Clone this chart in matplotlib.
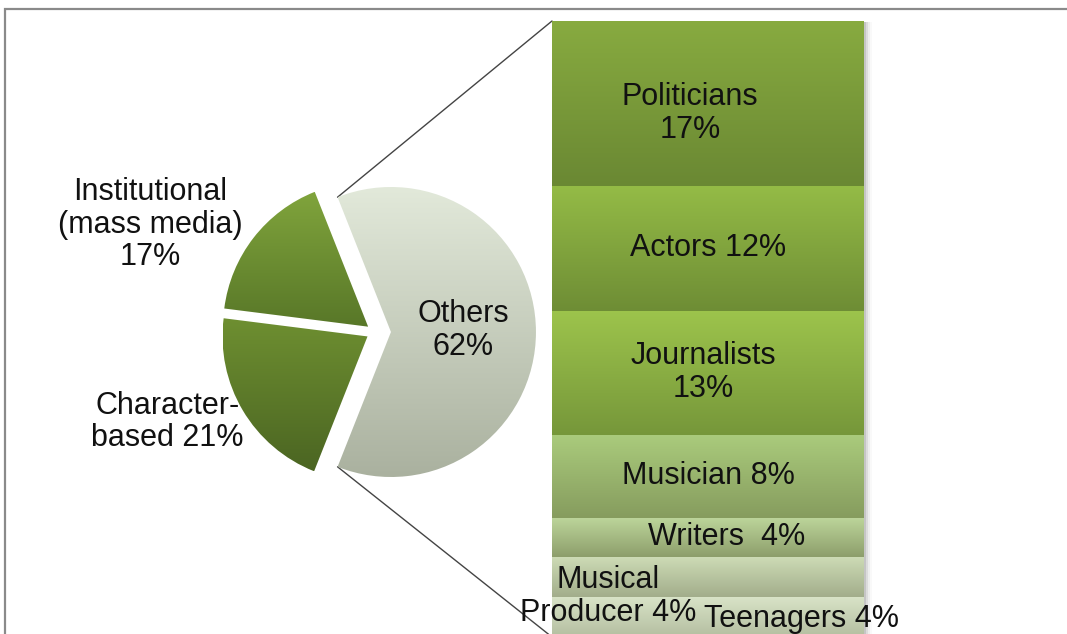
import numpy as np
import matplotlib
matplotlib.use("Agg")
import matplotlib.pyplot as plt
import matplotlib.transforms as mtransforms
from matplotlib.colors import LinearSegmentedColormap
from matplotlib.patches import Rectangle, ConnectionPatch

plt.rcParams['font.family'] = ['Liberation Sans', 'DejaVu Sans']

# pie data
pie_names = ['Others', 'Institutional\n(mass media)', 'Character-\nbased']
pie_values = [62, 17, 21]
pie_labels = ['Others\n62%', 'Institutional\n(mass media)\n17%', 'Character-\nbased 21%']

# bar (breakdown of "Others"), bottom to top
bar_names = ['Teenagers', 'Musical Producer', 'Writers', 'Musician',
             'Journalists', 'Actors', 'Politicians']
bar_values = [4.0, 4.0, 4.0, 8.3, 12.5, 12.5, 16.6]
bar_labels = ['Teenagers 4%', 'Musical\nProducer 4%', 'Writers  4%', 'Musician 8%',
              'Journalists\n13%', 'Actors 12%', 'Politicians\n17%']

# styles
pie_colors = [('#e2e9da', '#aab19f'), ('#80a43c', '#587728'), ('#6e8f31', '#4b6522')]
bar_colors = [('#d8e3c7', '#b4bea0'), ('#cddbb5', '#a2ad8b'), ('#bdd69b', '#8d9e6b'),
              ('#aacb7c', '#869c5e'), ('#9dc44c', '#76973a'), ('#94bb46', '#6e8d35'),
              ('#88ab40', '#6a8833')]
explode = [0.11, 0.06, 0.06]
pie_label_pos = [(0.61, 0.01), (-1.55, 0.74), (-1.43, -0.62)]
bar_label_off = [(0.30, -0.2), (-0.32, -1.9), (0.06, 0.0), (0.0, 0.0),
                 (-0.016, 0.0), (0.0, 0.0), (-0.058, -1.0)]

W, H = 1067, 634
fig = plt.figure(figsize=(W / 100, H / 100), dpi=100)


def px_axes(left, top, width, height):
    return fig.add_axes([left / W, 1 - (top + height) / H, width / W, height / H])


def fill_gradient(ax, patch, top, bottom, aspect):
    bb = patch.get_path().get_extents(patch.get_patch_transform())
    cmap = LinearSegmentedColormap.from_list('g', [top, bottom])
    grad = np.linspace(0, 1, 256).reshape(-1, 1)
    im = ax.imshow(grad, cmap=cmap, extent=[bb.x0, bb.x1, bb.y0, bb.y1],
                   origin='upper', aspect=aspect, interpolation='bicubic', zorder=1)
    im.set_clip_path(patch)
    patch.set_facecolor('none')
    patch.set_edgecolor('none')


# frame around the chart
fig.patches.append(Rectangle((5 / W, -0.1), 1.2, 1.1 - 9 / H, transform=fig.transFigure,
                             fill=False, ec='#8a8a8a', lw=1.6))

# pie
R = 145
ax_pie = px_axes(375 - 200, 332 - 200, 400, 400)
wedges, _ = ax_pie.pie(pie_values, explode=explode, startangle=-0.62 * 180,
                       counterclock=True, radius=1)
for w, (c1, c2) in zip(wedges, pie_colors):
    fill_gradient(ax_pie, w, c1, c2, 'equal')
for lab, (x, y) in zip(pie_labels, pie_label_pos):
    ax_pie.text(x, y, lab, ha='center', va='center', fontsize=22,
                linespacing=1.12, color='#111111', clip_on=False)
lim = 200 / R
ax_pie.set_xlim(-lim, lim)
ax_pie.set_ylim(-lim, lim)
ax_pie.set_aspect('equal')
ax_pie.axis('off')

# bar
total = sum(bar_values)
ax_bar = px_axes(552, 21, 312, 616)
bottoms = np.concatenate([[0], np.cumsum(bar_values)[:-1]])

# soft shadow on the right of the bar
for i, a in enumerate([0.10, 0.07, 0.045, 0.025]):
    tr = mtransforms.offset_copy(ax_bar.transData, fig=fig, x=(i + 1) * 1.5, y=-1.0,
                                 units='points')
    ax_bar.bar(0, total, width=1.0, color='black', alpha=a, transform=tr,
               zorder=0, clip_on=False)

bars = ax_bar.bar(0, bar_values, bottom=bottoms, width=1.0, zorder=2)
for b, (c1, c2) in zip(bars, bar_colors):
    fill_gradient(ax_bar, b, c1, c2, 'auto')
for lab, v, b0, (dx, dy) in zip(bar_labels, bar_values, bottoms, bar_label_off):
    ax_bar.text(dx, b0 + v / 2 + dy, lab, ha='center', va='center', fontsize=22,
                linespacing=1.12, color='#111111', clip_on=False, zorder=5)
ax_bar.set_xlim(-0.5, 0.5)
ax_bar.set_ylim(0, total)
ax_bar.axis('off')

# connector lines from the "Others" slice to the bar
w = wedges[0]
cx, cy = w.center
for ang, yb in [(w.theta2, total), (w.theta1, 0)]:
    pt = (cx + w.r * np.cos(np.radians(ang)), cy + w.r * np.sin(np.radians(ang)))
    con = ConnectionPatch(xyA=pt, coordsA=ax_pie.transData, xyB=(-0.5, yb),
                          coordsB=ax_bar.transData, color='#444444', lw=1.0, zorder=0)
    fig.add_artist(con)

fig.savefig('out.png', dpi=100)
